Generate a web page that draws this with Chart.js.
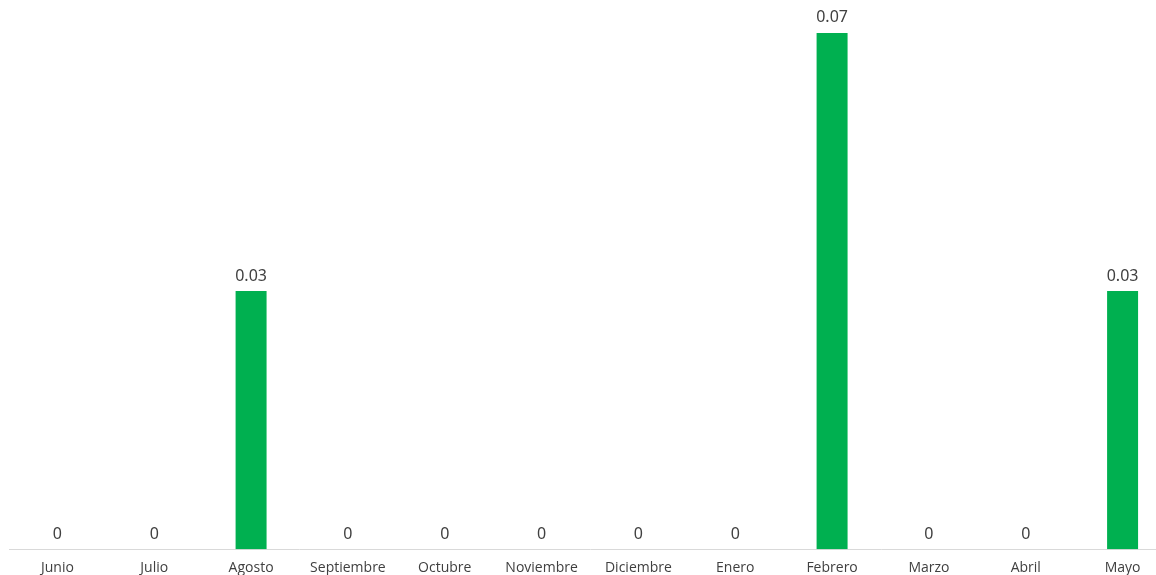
<!DOCTYPE html>
<html>
<head>
<meta charset="utf-8">
<script src="https://cdn.jsdelivr.net/npm/chart.js@4"></script>
<style>
  html, body { margin: 0; padding: 0; background: #fff; overflow: hidden; }
  #wrap { width: 1156px; height: 575px; overflow: hidden; }
</style>
</head>
<body>
<div id="wrap"><canvas id="myChart" width="1171" height="586"></canvas></div>
<script>
let months = ['Junio', 'Julio', 'Agosto', 'Septiembre', 'Octubre', 'Noviembre', 'Diciembre', 'Enero', 'Febrero', 'Marzo', 'Abril', 'Mayo'];
let values = [0, 0, 0.0345, 0, 0, 0, 0, 0, 0.069, 0, 0, 0.0345];

// draws the value above each bar
const barLabels = {
    id: 'barLabels',
    afterDatasetsDraw(chart) {
        let ctx = chart.ctx;
        let meta = chart.getDatasetMeta(0);
        ctx.save();
        ctx.fillStyle = '#404040';
        ctx.font = '16px "Noto Sans", sans-serif';
        ctx.textAlign = 'center';
        ctx.textBaseline = 'bottom';
        meta.data.forEach((bar, i) => {
            let v = values[i];
            let txt = v === 0 ? '0' : v.toFixed(2);
            ctx.fillText(txt, bar.x, bar.y - 7);
        });
        ctx.restore();
    }
};

let ctx = document.getElementById('myChart').getContext('2d');
new Chart(ctx, {
    type: 'bar',
    data: {
        labels: months,
        datasets: [{
            data: values,
            backgroundColor: '#00b050',
            barPercentage: 0.64,
            categoryPercentage: 0.5
        }]
    },
    options: {
        responsive: false,
        animation: false,
        layout: { padding: { left: 9, right: 0, top: 0, bottom: 0 } },
        plugins: {
            legend: { display: false },
            tooltip: { enabled: false }
        },
        scales: {
            x: {
                grid: { display: false, drawTicks: false },
                border: { color: '#d9d9d9', width: 1 },
                ticks: {
                    color: '#404040',
                    font: { family: '"Open Sans", sans-serif', size: 14 },
                    padding: 10,
                    maxRotation: 0
                }
            },
            y: {
                display: false,
                min: 0,
                max: 0.0734
            }
        }
    },
    plugins: [barLabels]
});
</script>
</body>
</html>
